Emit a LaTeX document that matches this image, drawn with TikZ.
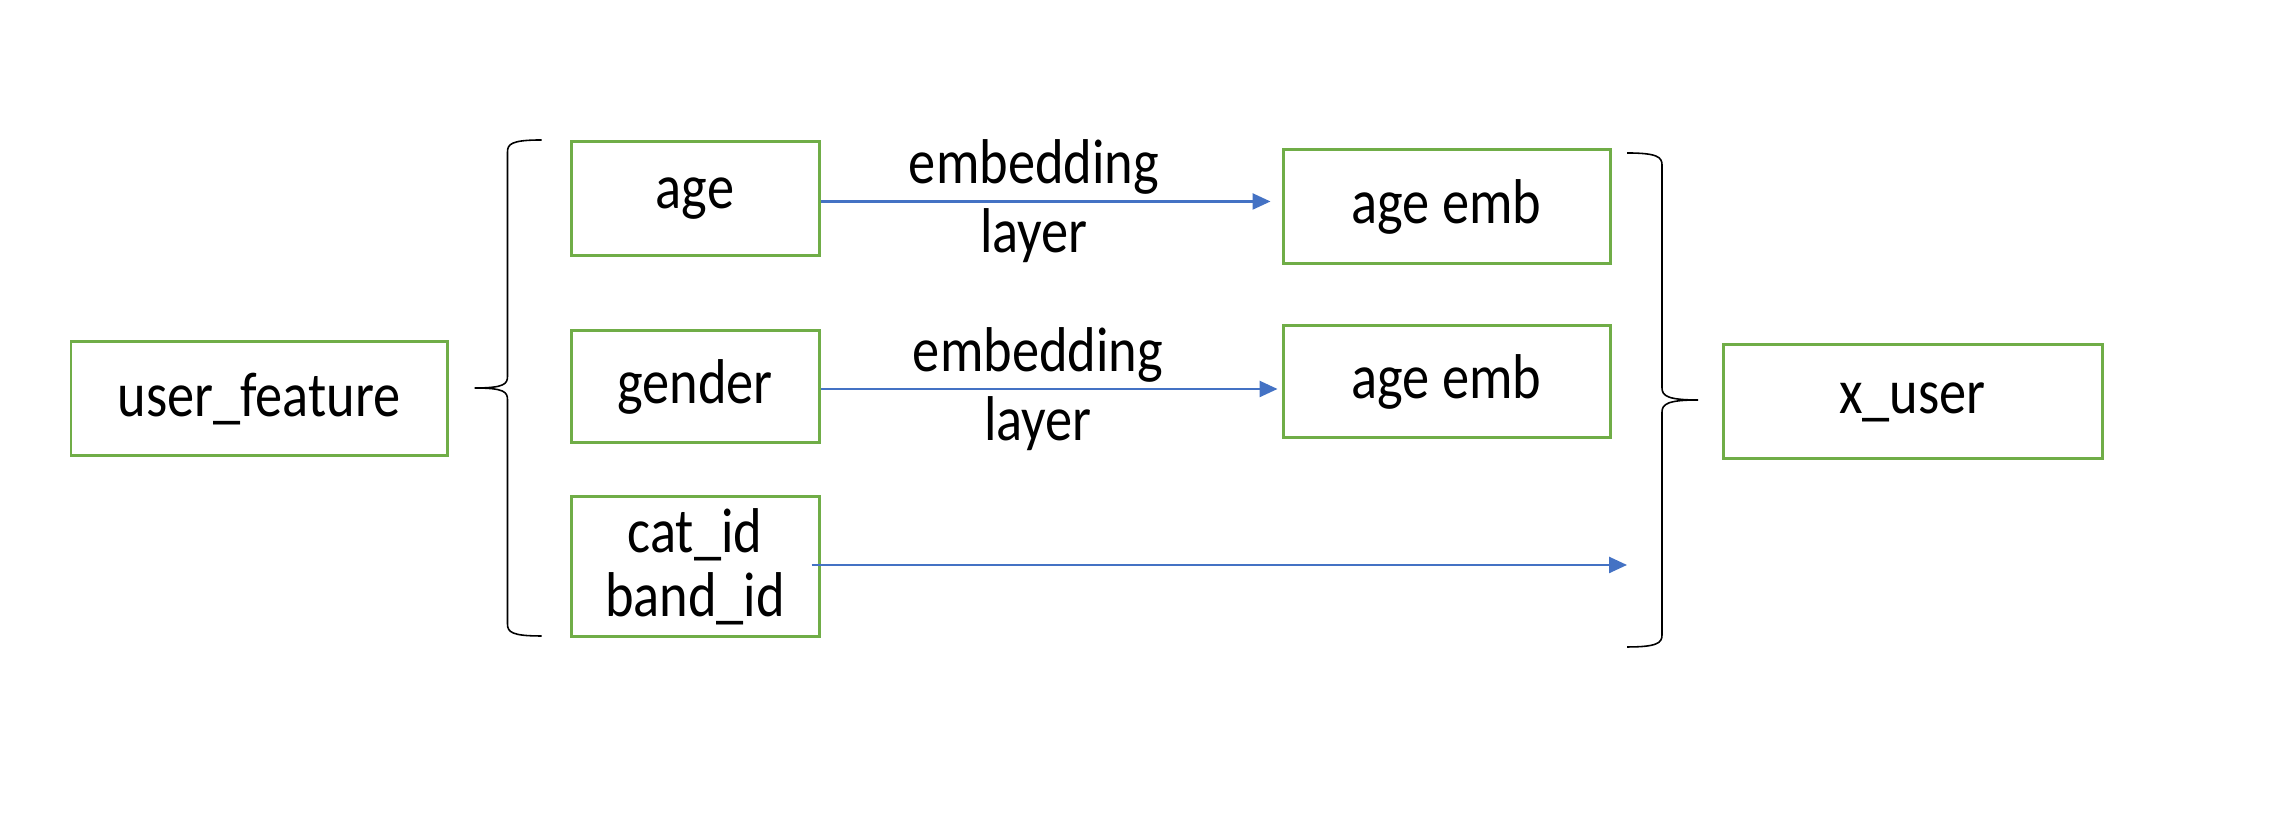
\documentclass[tikz,border=0pt]{standalone}
\usepackage{fontspec}
\setmainfont[FakeStretch=0.86]{Carlito}
\usepackage{tikz}
\usetikzlibrary{positioning,arrows.meta}
\definecolor{boxgreen}{HTML}{70AD47}
\definecolor{arrowblue}{HTML}{4472C4}
\tikzset{>={Triangle[width=1.6mm,length=1.8mm]}}
\tikzset{
	featbox/.style={draw=boxgreen, line width=0.85pt, align=center, inner sep=0pt,
		minimum width=2.48cm, minimum height=1.14cm, font=\fontsize{18}{18.2}\selectfont},
	flow/.style={->, draw=arrowblue, line width=0.7pt},
	curly/.style={line width=0.45pt},
	lbl/.style={align=center, font=\fontsize{18}{19.6}\selectfont}
}

\begin{document}
\begin{tikzpicture}
		
		\fill[white] (0,0) rectangle (22.84,8.24);
		\useasboundingbox (0,0) rectangle (22.84,8.24);
		
		\node(UF) [featbox, minimum width=3.76cm] at (2.59,4.25) 	{user\_feature};
		\node(AGE) [featbox] at (6.95,6.255)							{age};
		\node(GEN) [featbox, minimum height=1.12cm] at (6.95,4.37)		{gender};
		\node(CAT) [featbox, minimum height=1.40cm] at (6.95,2.57)		{cat\_id\\band\_id};
		\node(EMB1) [featbox, minimum width=3.27cm] at (14.465,6.17)	{age emb};
		\node(EMB2) [featbox, minimum width=3.27cm, minimum height=1.12cm] at (14.465,4.42) {age emb};
		\node(XU) [featbox, minimum width=3.79cm] at (19.125,4.22)		{x\_user};
		
		\coordinate(LT) at ([xshift=-0.28cm]AGE.north west);
		\coordinate(RT) at (16.27,6.71);
		
		% braces
		\draw[curly] (LT) .. controls +(-0.3,0) and +(0,0.08) .. ++(-0.34,-0.12) -- ++(0,-2.24)
			.. controls +(0,-0.08) and +(0.3,0) .. ++(-0.33,-0.12)
			.. controls +(0.3,0) and +(0,0.08) .. ++(0.33,-0.12) -- ++(0,-2.24)
			.. controls +(0,-0.08) and +(-0.3,0) .. ++(0.34,-0.12);
		\draw[curly] (RT) .. controls +(0.3,0) and +(0,0.08) .. ++(0.35,-0.12) -- ++(0,-2.23)
			.. controls +(0,-0.08) and +(-0.3,0) .. ++(0.36,-0.12)
			.. controls +(-0.3,0) and +(0,0.08) .. ++(-0.36,-0.12) -- ++(0,-2.23)
			.. controls +(0,-0.08) and +(0.3,0) .. ++(-0.35,-0.12);
		
		% arrows
		\draw[flow, shorten >=0.11cm] ([yshift=-0.03cm]AGE.east) -- node[lbl, xshift=-0.17cm]{embedding\\layer} ([yshift=-0.03cm]AGE.east -| EMB1.west);
		\draw[flow, shorten >=0.04cm] ([yshift=-0.02cm]GEN.east) -- node[lbl, xshift=-0.13cm]{embedding\\layer} ([yshift=-0.02cm]GEN.east -| EMB2.west);
		\draw[flow] ([xshift=-0.09cm, yshift=0.02cm]CAT.east) -- ([yshift=0.02cm]CAT.east -| RT);
		
	\end{tikzpicture}
\end{document}
